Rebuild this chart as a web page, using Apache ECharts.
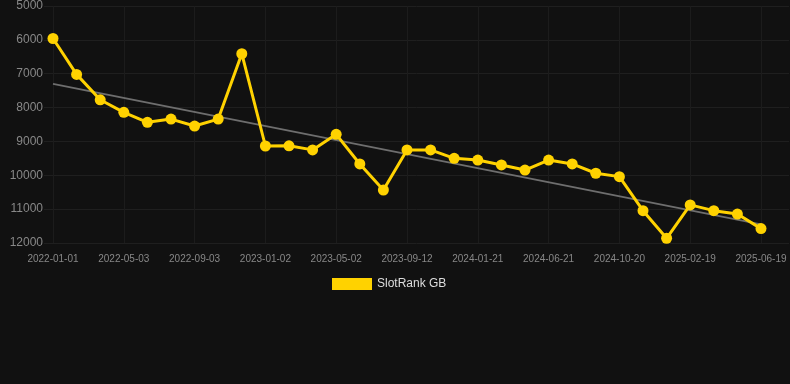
<!DOCTYPE html>
<html>
<head>
<meta charset="utf-8">
<script src="https://cdn.jsdelivr.net/npm/echarts@6/dist/echarts.min.js"></script>
<style>
html,body{margin:0;padding:0;background:#111111;}
#chart{width:790px;height:384px;}
</style>
</head>
<body>
<div id="chart"></div>
<script>
const dates = ["2022-01-01","2022-02-10","2022-03-22","2022-05-03","2022-06-12","2022-07-23","2022-09-03","2022-10-13","2022-11-23","2023-01-02","2023-02-11","2023-03-23","2023-05-02","2023-06-15","2023-07-29","2023-09-12","2023-10-25","2023-12-08","2024-01-21","2024-03-11","2024-05-01","2024-06-21","2024-08-01","2024-09-10","2024-10-20","2024-11-29","2025-01-09","2025-02-19","2025-03-31","2025-05-10","2025-06-19"];
const slotRank = [5960,7020,7770,8140,8435,8340,8545,8340,6410,9135,9130,9250,8790,9665,10435,9250,9250,9500,9550,9695,9845,9550,9665,9940,10040,11045,11860,10875,11045,11145,11575];
const trendStart = 7300;
const trendEnd = 11450;
const yTicks = [5000,6000,7000,8000,9000,10000,11000,12000];

const trend = dates.map((d,i)=> i===0 ? trendStart : (i===dates.length-1 ? trendEnd : null));
const font = '"Liberation Sans", Arial, sans-serif';
const chart = echarts.init(document.getElementById('chart'));
chart.setOption({
  backgroundColor:'#111111',
  animation:false,
  textStyle:{fontFamily:font},
  legend:{
    data:['SlotRank GB'],
    top:273, left:327,
    itemWidth:40, itemHeight:12, itemGap:10,
    icon:'rect',
    textStyle:{color:'#dddddd', fontSize:12, fontFamily:font}
  },
  grid:[
    {left:44, right:1, top:6, bottom:141, containLabel:false},
    {left:53, right:29, top:6, bottom:141, containLabel:false}
  ],
  xAxis:[
    {gridIndex:0, type:'value', min:0, max:1, show:false},
    {gridIndex:1, type:'category', data:dates, boundaryGap:false,
      axisLine:{show:false}, axisTick:{show:false},
      axisLabel:{interval:2, color:'#888888', fontSize:10, margin:11, fontFamily:font},
      splitLine:{show:true, interval:2, lineStyle:{color:'#1c1c1c', width:1}}}
  ],
  yAxis:[
    {gridIndex:0, type:'value', inverse:true, min:yTicks[0], max:yTicks[yTicks.length-1], interval:1000,
      axisLine:{show:false}, axisTick:{show:false},
      axisLabel:{color:'#888888', fontSize:12, margin:1, fontFamily:font, formatter:(v)=>String(v)},
      splitLine:{show:true, lineStyle:{color:'#1f1f1f', width:1}}},
    {gridIndex:1, type:'value', inverse:true, min:yTicks[0], max:yTicks[yTicks.length-1], interval:1000, show:false}
  ],
  series:[
    {name:'Trend', type:'line', xAxisIndex:1, yAxisIndex:1, data:trend, connectNulls:true,
      showSymbol:false, symbol:'none', silent:true,
      lineStyle:{color:'#6e6e6e', width:2}, z:2},
    {name:'SlotRank GB', type:'line', xAxisIndex:1, yAxisIndex:1, data:slotRank,
      symbol:'circle', symbolSize:11, itemStyle:{color:'#FFD200'},
      lineStyle:{color:'#FFD200', width:3}, z:3}
  ]
});
</script>
</body>
</html>
